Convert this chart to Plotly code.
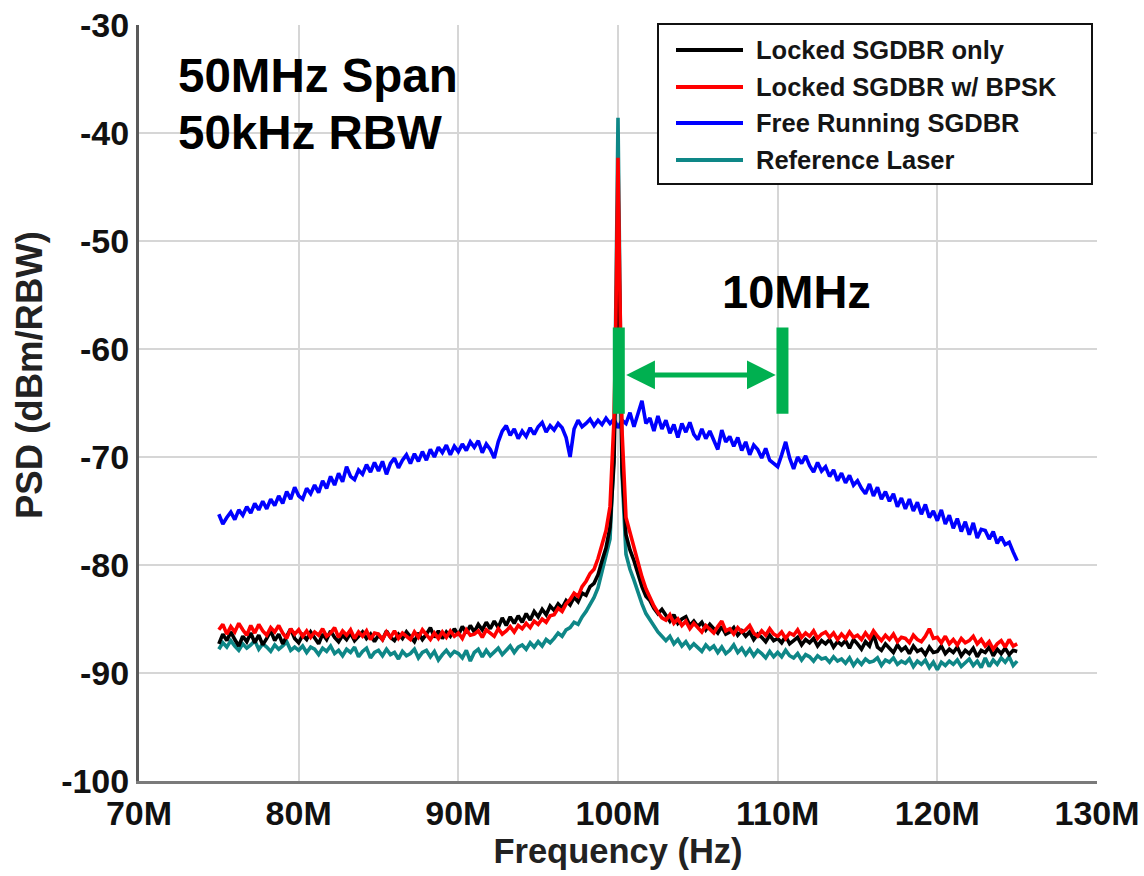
import numpy as np
import plotly.graph_objects as go

# ---------------- data (frequencies in MHz, PSD in dBm/RBW) ----------------
freq_grid_start, freq_grid_stop, freq_grid_step = 75.0, 125.0, 0.25

free_running = [
    -75.3, -76.2, -75.6, -75.1,  -75.8, -74.9, -75.4, -74.6,  -75.2, -74.3, -74.9, -74.1,
    -74.8, -73.9, -74.5, -73.6,  -74.3, -73.2, -73.9, -72.8,  -73.6, -73.9, -72.9, -73.4,
    -72.6, -73.3, -72.2, -72.9,  -71.8, -72.6, -71.5, -72.3,  -70.9, -71.8, -72.1, -71.2,
    -71.6, -70.7, -71.4, -70.5,  -71.3, -70.4, -71.6, -70.6,  -70.1, -71.0, -70.3, -69.8,
    -70.6, -69.7, -70.4, -69.5,  -70.3, -69.3, -70.0, -69.1,  -69.6, -68.9, -69.8, -69.0,
    -69.5, -68.8, -69.4, -68.6,  -69.1, -68.5, -69.6, -68.8,  -69.3, -70.1, -68.6, -67.6,
    -67.1, -68.0, -67.4, -68.3,  -67.6, -68.1, -67.3, -67.9,  -67.2, -66.8, -67.7, -67.1,
    -67.5, -66.9, -67.3, -68.2,  -70.0, -67.4, -66.6, -67.2,  -66.9, -66.5, -67.1, -66.6,
    -67.0, -66.4, -66.9, -66.5,  -67.3, -66.6, -66.9, -65.9,  -67.2, -66.1, -64.8, -66.9,
    -66.4, -67.6, -66.2, -67.4,  -66.6, -67.8, -67.0, -68.2,  -66.9, -67.7, -66.8, -67.9,
    -68.4, -67.4, -68.3, -67.6,  -68.5, -69.3, -67.5, -68.6,  -68.1, -69.0, -68.2, -69.4,
    -68.6, -69.8, -68.9, -69.3,  -70.1, -69.2, -70.3, -70.6,  -70.9, -69.8, -68.6, -70.1,
    -71.1, -70.0, -70.6, -69.9,  -70.8, -71.4, -70.5, -71.3,  -70.9, -71.8, -71.2, -72.2,
    -71.5, -72.4, -71.7, -72.6,  -72.2, -72.9, -73.4, -72.5,  -73.6, -72.8, -73.9, -73.2,
    -74.1, -73.4, -74.6, -73.8,  -74.8, -73.9, -75.0, -74.2,  -75.3, -74.4, -75.6, -75.0,
    -75.9, -74.9, -76.2, -75.4,  -76.6, -75.7, -76.9, -76.0,  -77.2, -76.1, -77.5, -76.7,
    -76.8, -77.6, -76.9, -78.0,  -77.4, -78.1, -77.9, -78.8,  -79.6,
]

locked_only = [
    -87.3, -86.4, -87.0, -86.2,  -86.9, -87.5, -86.6, -87.1,  -86.3, -87.2, -86.5, -87.4,
    -86.8, -86.1, -87.0, -86.4,  -87.3, -86.6, -85.9, -86.8,  -87.2, -86.5, -86.9, -86.2,
    -86.8, -87.3, -86.4, -86.9,  -86.1, -86.7, -87.1, -86.5,  -86.9, -86.3, -87.0, -86.6,
    -86.2, -86.8, -86.4, -87.1,  -86.5, -86.9, -86.1, -86.7,  -87.0, -86.4, -86.8, -86.2,
    -86.6, -87.1, -86.3, -86.9,  -86.4, -85.8, -86.7, -86.1,  -86.8, -86.2, -86.6, -85.9,
    -86.5, -85.7, -86.3, -85.6,  -86.2, -85.5, -86.0, -85.3,  -85.9, -85.2, -85.8, -84.9,
    -85.6, -84.8, -85.4, -84.7,  -85.3, -84.5, -85.1, -84.3,  -84.8, -84.1, -84.6, -83.8,
    -84.2, -83.6, -84.0, -83.3,  -83.7, -83.0, -83.4, -82.6,  -82.8, -82.0, -81.7, -80.9,
    -79.6, -78.4, -76.5, -70.5,  -44.8, -71.0, -77.2, -78.6,  -79.6, -80.8, -82.0, -82.9,
    -83.3, -84.0, -84.5, -84.1,  -84.7, -85.2, -84.6, -85.4,  -85.0, -84.8, -85.6, -85.2,
    -85.7, -85.3, -86.0, -85.5,  -85.9, -86.3, -85.7, -86.4,  -86.2, -85.8, -86.5, -86.1,
    -86.6, -86.2, -86.9, -86.4,  -86.7, -87.1, -86.5, -87.0,  -86.8, -87.2, -86.6, -87.3,
    -87.0, -86.7, -87.4, -86.9,  -87.2, -86.8, -87.5, -87.0,  -87.3, -86.9, -87.6, -87.1,
    -87.4, -87.0, -87.7, -86.9,  -87.3, -87.8, -87.1, -87.5,  -86.4, -87.6, -87.9, -87.3,
    -87.7, -88.1, -87.4, -87.9,  -87.6, -88.2, -87.5, -88.0,  -87.8, -88.3, -87.6, -88.1,
    -88.0, -87.5, -88.2, -87.8,  -88.1, -87.6, -88.4, -87.9,  -88.2, -87.7, -88.5, -87.9,
    -88.1, -87.6, -88.4, -87.8,  -88.2, -87.7, -88.3, -87.9,  -88.0,
]

locked_bpsk = [
    -86.0, -85.5, -86.4, -85.7,  -86.2, -85.4, -86.0, -86.5,  -85.6, -86.3, -85.5, -86.1,
    -86.5, -85.8, -86.2, -85.6,  -86.3, -86.8, -85.9, -86.4,  -86.0, -86.6, -86.1, -86.7,
    -86.2, -86.5, -85.9, -86.6,  -86.3, -85.8, -86.7, -86.1,  -86.5, -86.0, -86.8, -86.2,
    -86.6, -86.1, -86.9, -86.3,  -86.4, -86.9, -86.2, -86.7,  -86.1, -86.8, -86.3, -86.6,
    -86.9, -86.2, -86.7, -86.0,  -86.5, -86.9, -86.3, -86.8,  -86.2, -86.7, -86.1, -86.6,
    -86.3, -86.8, -86.0, -86.5,  -86.4, -86.1, -86.7, -86.0,  -86.3, -86.6, -85.9, -86.4,
    -86.1, -85.7, -86.2, -85.6,  -85.9, -85.4, -85.8, -85.2,  -85.5, -85.0, -85.3, -84.7,
    -84.6, -84.0, -84.3, -83.6,  -83.2, -82.6, -82.9, -82.0,  -81.5, -80.8, -80.4, -79.4,
    -78.1, -76.8, -74.6, -66.5,  -42.3, -67.5, -75.6, -77.0,  -78.2, -79.8, -81.1, -82.2,
    -83.0, -83.8, -84.4, -84.9,  -85.1, -84.6, -85.4, -85.0,  -85.6, -85.2, -85.9, -85.4,
    -85.8, -86.2, -85.6, -86.0,  -86.3, -85.7, -85.2, -86.1,  -85.9, -86.4, -85.8, -86.2,
    -86.0, -85.6, -86.3, -86.6,  -86.1, -86.5, -85.9, -86.4,  -86.6, -86.2, -86.8, -86.3,
    -86.5, -86.0, -86.7, -86.3,  -86.6, -86.1, -86.8, -86.4,  -86.2, -86.7, -86.3, -86.9,
    -86.4, -86.8, -86.2, -86.7,  -86.5, -86.9, -86.3, -86.8,  -86.1, -86.6, -87.0, -86.5,
    -86.9, -86.4, -87.1, -86.7,  -86.8, -87.2, -86.5, -86.9,  -87.1, -86.6, -85.9, -86.8,
    -86.7, -87.2, -86.6, -87.3,  -86.9, -87.4, -86.8, -87.2,  -87.0, -86.6, -87.3, -86.9,
    -87.5, -87.1, -87.8, -87.3,  -87.0, -87.6, -86.9, -87.5,  -87.3,
]

reference_laser = [
    -87.8, -87.2, -87.6, -87.0,  -87.5, -87.9, -87.3, -87.7,  -87.4, -87.0, -87.8, -87.3,
    -87.6, -88.0, -87.4, -87.8,  -87.5, -87.1, -87.9, -87.6,  -87.9, -87.5, -88.1, -87.6,
    -87.8, -88.3, -87.7, -88.0,  -87.5, -88.2, -87.9, -88.4,  -87.8, -88.1, -87.6, -88.5,
    -88.0, -87.7, -88.6, -88.1,  -87.9, -88.4, -87.8, -88.3,  -88.1, -88.7, -88.0, -88.4,
    -88.2, -87.8, -88.6, -88.1,  -87.9, -88.5, -88.0, -88.8,  -88.3, -87.9, -88.4, -88.0,
    -88.2, -88.6, -87.9, -88.9,  -88.1, -87.8, -88.5, -87.9,  -88.4, -88.0, -87.7, -88.3,
    -87.9, -87.5, -88.1, -87.6,  -87.4, -87.8, -87.2, -87.6,  -87.1, -87.5, -86.9, -87.2,
    -86.8, -86.3, -86.6, -86.0,  -85.8, -85.3, -85.5, -84.8,  -84.3, -83.6, -83.0, -82.1,
    -80.6, -79.2, -77.6, -69.5,  -38.6, -71.5, -79.0, -80.4,  -81.4, -82.6, -83.6, -84.5,
    -85.1, -85.7, -86.2, -86.6,  -87.0, -86.6, -87.3, -86.9,  -87.5, -87.1, -87.7, -87.3,
    -87.6, -88.0, -87.4, -87.8,  -87.5, -88.1, -87.6, -88.2,  -87.9, -87.4, -88.1, -87.7,
    -88.3, -87.8, -88.4, -87.9,  -88.2, -88.6, -88.0, -88.5,  -88.1, -88.5, -87.9, -88.4,
    -88.6, -88.2, -88.8, -88.3,  -88.5, -88.9, -88.4, -88.7,  -88.6, -89.0, -88.5, -88.9,
    -88.7, -89.1, -88.6, -89.3,  -88.8, -89.2, -88.7, -89.0,  -88.9, -88.6, -89.3, -88.8,
    -89.0, -88.6, -89.2, -88.9,  -89.1, -88.7, -89.4, -88.9,  -89.2, -88.8, -89.5, -89.0,
    -89.7, -89.0, -89.3, -88.9,  -89.2, -88.8, -89.4, -89.0,  -88.7, -89.3, -88.9, -89.5,
    -88.6, -89.4, -88.8, -89.2,  -88.6, -89.0, -88.5, -89.3,  -88.9,
]

# extra points resolving the narrow carrier peak
peak_freq = [99.85, 99.92, 100.08, 100.15]
peak_locked_only = [-63.0, -53.0, -54.0, -64.0]
peak_locked_bpsk = [-59.0, -50.0, -51.0, -60.0]
peak_reference = [-60.0, -49.0, -50.0, -62.0]

series_names = ["Locked SGDBR only", "Locked SGDBR w/ BPSK",
                "Free Running SGDBR", "Reference Laser"]
series_colors = ["#000000", "#ff0000", "#0000ff", "#0e8787"]

x_tick_vals = [70, 80, 90, 100, 110, 120, 130]          # MHz
x_tick_text = ["70M", "80M", "90M", "100M", "110M", "120M", "130M"]
y_tick_vals = [-100, -90, -80, -70, -60, -50, -40, -30]
y_tick_text = ["-100", "-90", "-80", "-70", "-60", "-50", "-40", "-30"]

span_text = ["50MHz Span", "50kHz RBW"]
marker_text = "10MHz"
marker_start_mhz, marker_stop_mhz = 100.05, 110.3

# ---------------- build ----------------
MHZ = 1e6
grid = np.arange(freq_grid_start, freq_grid_stop + 1e-9, freq_grid_step)


def with_peak(values, peak_values):
    xs = np.concatenate([grid, np.array(peak_freq)])
    ys = np.concatenate([np.array(values), np.array(peak_values)])
    order = np.argsort(xs)
    return xs[order] * MHZ, ys[order]


FONT = "Liberation Sans, Arial, Helvetica, sans-serif"
LW = 3.6
fig = go.Figure()

# draw order: blue, teal, black, red
xb, yb = grid * MHZ, np.array(free_running)
fig.add_trace(go.Scatter(x=xb, y=yb, mode="lines", name=series_names[2],
                         line=dict(color=series_colors[2], width=LW), showlegend=False))
xr, yr = with_peak(reference_laser, peak_reference)
fig.add_trace(go.Scatter(x=xr, y=yr, mode="lines", name=series_names[3],
                         line=dict(color=series_colors[3], width=LW), showlegend=False))
xk, yk = with_peak(locked_only, peak_locked_only)
fig.add_trace(go.Scatter(x=xk, y=yk, mode="lines", name=series_names[0],
                         line=dict(color=series_colors[0], width=LW), showlegend=False))
xp, yp = with_peak(locked_bpsk, peak_locked_bpsk)
fig.add_trace(go.Scatter(x=xp, y=yp, mode="lines", name=series_names[1],
                         line=dict(color=series_colors[1], width=LW), showlegend=False))

W, H = 1144, 876
ML, MR, MT, MB = 139, 47, 25, 95
PW, PH = W - ML - MR, H - MT - MB


def px_x(px):
    return (px - ML) / PW


def px_y(py):
    return (H - MB - py) / PH


shapes = []
annotations = []

# manual legend box
shapes.append(dict(type="rect", xref="paper", yref="paper",
                   x0=px_x(658), x1=px_x(1092), y0=px_y(184), y1=px_y(24),
                   line=dict(color="#111111", width=2), fillcolor="white", layer="above"))
row_y = [50, 87, 123, 160]
for i, ry in enumerate(row_y):
    shapes.append(dict(type="line", xref="paper", yref="paper",
                       x0=px_x(676), x1=px_x(743), y0=px_y(ry), y1=px_y(ry),
                       line=dict(color=series_colors[i], width=4), layer="above"))
    annotations.append(dict(xref="paper", yref="paper", x=px_x(754), y=px_y(ry),
                            xanchor="left", yanchor="middle", showarrow=False,
                            text=series_names[i],
                            font=dict(family=FONT, size=25.5, color="#151515", weight="bold")))

# span / RBW text
for txt, cy in zip(span_text, [75, 132]):
    annotations.append(dict(xref="paper", yref="paper", x=px_x(176), y=px_y(cy),
                            xanchor="left", yanchor="middle", showarrow=False, text=txt,
                            font=dict(family=FONT, size=47.5, color="#000000", weight="bold")))

# 10 MHz marker
GREEN = "#00b050"
for fm in (marker_start_mhz, marker_stop_mhz):
    shapes.append(dict(type="line", xref="x", yref="y",
                       x0=fm * MHZ, x1=fm * MHZ, y0=-58.0, y1=-66.0,
                       line=dict(color=GREEN, width=12), layer="above"))
annotations.append(dict(xref="x", yref="y", axref="x", ayref="y",
                        x=109.88 * MHZ, y=-62.4, ax=100.42 * MHZ, ay=-62.4,
                        text="", showarrow=True, arrowside="end+start",
                        arrowhead=2, startarrowhead=2, arrowsize=1.15, startarrowsize=1.15,
                        arrowwidth=5, arrowcolor=GREEN))
annotations.append(dict(xref="x", yref="y", x=111.15 * MHZ, y=-54.7,
                        xanchor="center", yanchor="middle", showarrow=False, text=marker_text,
                        font=dict(family=FONT, size=47, color="#000000", weight="bold")))

# y-axis title (placed as rotated text, slightly above plot centre as in the original)
annotations.append(dict(xref="paper", yref="paper", x=px_x(30), y=px_y(375),
                        xanchor="center", yanchor="middle", showarrow=False,
                        text="PSD (dBm/RBW)", textangle=-90,
                        font=dict(family=FONT, size=36.5, color="#222222", weight="bold")))

fig.update_layout(
    width=W, height=H,
    margin=dict(l=ML, r=MR, t=MT, b=MB, autoexpand=False),
    paper_bgcolor="white", plot_bgcolor="white",
    showlegend=False,
    font=dict(family=FONT, color="#111111"),
    shapes=shapes, annotations=annotations,
)
fig.update_xaxes(
    range=[70 * MHZ, 130 * MHZ],
    tickvals=[v * MHZ for v in x_tick_vals], ticktext=x_tick_text,
    showgrid=True, gridcolor="#d6d6d6", gridwidth=2,
    showline=True, linecolor="#7a7a7a", linewidth=3,
    ticks="", zeroline=False,
    tickfont=dict(family=FONT, size=34, color="#111111", weight="bold"),
    title=dict(text="Frequency (Hz)", standoff=9,
               font=dict(family=FONT, size=34.5, color="#222222", weight="bold")),
)
fig.update_yaxes(
    range=[-100, -30],
    tickvals=y_tick_vals, ticktext=y_tick_text,
    showgrid=True, gridcolor="#d6d6d6", gridwidth=2,
    showline=True, linecolor="#5a5a5a", linewidth=3,
    ticks="", zeroline=False,
    tickfont=dict(family=FONT, size=34, color="#111111", weight="bold"),
)

fig.write_html("out.html")
